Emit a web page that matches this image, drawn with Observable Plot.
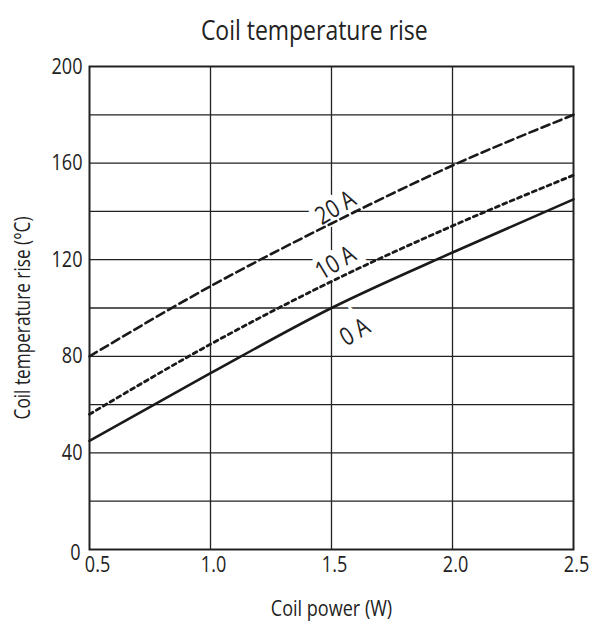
<!DOCTYPE html>
<html>
<head>
<meta charset="utf-8">
<script src="https://cdn.jsdelivr.net/npm/d3@7"></script>
<script src="https://cdn.jsdelivr.net/npm/@observablehq/plot@0.6"></script>
<style>
  html, body { margin: 0; padding: 0; background: #fff; }
  body { width: 598px; height: 624px; overflow: hidden; font-family: "Open Sans", sans-serif; }
  #title { height: 50px; line-height: 58px; font-size: 28px; color: #222; text-align: center; padding-left: 30px; box-sizing: border-box; width: 598px; overflow: visible; }
  #title span { display: inline-block; transform: scaleX(0.82); transform-origin: center; }
</style>
</head>
<body>
<div id="title"><span>Coil temperature rise</span></div>
<div id="chart"></div>
<script>
// ---- data ----
const power   = [0.5, 1.0, 1.5, 2.0, 2.5];          // Coil power (W)
const rise0A  = [45, 73, 100, 123, 145];            // 0 A
const rise10A = [56, 85, 111, 134, 155];            // 10 A
const rise20A = [80, 109, 135, 159, 180];           // 20 A
const seriesNames = ["0 A", "10 A", "20 A"];
const xTicks = [0.5, 1.0, 1.5, 2.0, 2.5];
const yTicks = [0, 40, 80, 120, 160, 200];
const yGrid  = [20, 40, 60, 80, 100, 120, 140, 160, 180];
const xGrid  = [1.0, 1.5, 2.0];
// label anchor points (data units) for the curve labels
const labelNames = ["20 A", "10 A", "0 A"];
const labelX = [1.517, 1.517, 1.597];
const labelY = [141.5, 118.7, 90];

const seriesValues = [rise0A, rise10A, rise20A];
const rows = seriesNames.flatMap((s, i) => power.map((p, j) => ({series: s, power: p, rise: seriesValues[i][j]})));
const labels = labelNames.map((t, i) => ({text: t, x: labelX[i], y: labelY[i]}));
const dashes = {"0 A": null, "10 A": "4,4", "20 A": "8.5,4.5"};

const font = "\"Open Sans\", sans-serif";
const ink = "#222";

const chart = Plot.plot({
  width: 598,
  height: 574,
  marginTop: 16,
  marginLeft: 89,
  marginRight: 25,
  marginBottom: 75,
  style: {fontFamily: font, fontSize: "22px", color: ink, background: "#fff", overflow: "visible"},
  x: {domain: [0.5, 2.5]},
  y: {domain: [0, 200]},
  marks: [
    Plot.gridY(yGrid, {stroke: ink, strokeOpacity: 1, strokeWidth: 1.3}),
    Plot.gridX(xGrid, {stroke: ink, strokeOpacity: 1, strokeWidth: 1.3}),
    Plot.frame({stroke: ink, strokeWidth: 2}),
    Plot.axisX(xTicks.slice(1), {tickSize: 0, tickPadding: 7, dx: 3, tickFormat: d3.format(".1f"), label: null, fontSize: 22, fill: ink}),
    Plot.axisX(xTicks.slice(0, 1), {tickSize: 0, tickPadding: 7, dx: 8, tickFormat: d3.format(".1f"), label: null, fontSize: 22, fill: ink}),
    Plot.axisY(yTicks.filter(d => d > 0), {tickSize: 0, tickPadding: 7, label: null, fontSize: 22, fill: ink}),
    Plot.axisY([0], {tickSize: 0, tickPadding: 9, dy: 3.5, label: null, fontSize: 22, fill: ink}),
    Plot.text(["Coil power (W)"], {frameAnchor: "bottom", dy: 59, lineAnchor: "middle", textAnchor: "middle", fontSize: 22, fill: ink}),
    Plot.text(["Coil temperature rise (°C)"], {frameAnchor: "left", rotate: -90, dx: -66, dy: 10, lineAnchor: "middle", textAnchor: "middle", fontSize: 21, fill: ink}),
    // white halos behind curve labels (mask grid lines)
    Plot.text(labels, {x: "x", y: "y", text: "text", rotate: -31, fontSize: 25, fill: "white", stroke: "white", strokeWidth: 12, strokeLinejoin: "miter"}),
    ...seriesNames.map(s => Plot.line(rows.filter(d => d.series === s), {
      x: "power", y: "rise", curve: "monotone-x",
      stroke: "#1a1a1a", strokeWidth: s === "10 A" ? 2.8 : 2.6, strokeDasharray: dashes[s]
    })),
    Plot.text(labels, {x: "x", y: "y", text: "text", rotate: -31, fontSize: 25, fill: ink})
  ]
});
document.getElementById("chart").appendChild(chart);
// condense the glyphs to mimic the narrow typeface of the reference
chart.querySelectorAll("text").forEach(el => {
  const L = el.getComputedTextLength();
  if (L > 0) {
    el.setAttribute("textLength", (L * 0.82).toFixed(2));
    el.setAttribute("lengthAdjust", "spacingAndGlyphs");
  }
});
</script>
</body>
</html>
